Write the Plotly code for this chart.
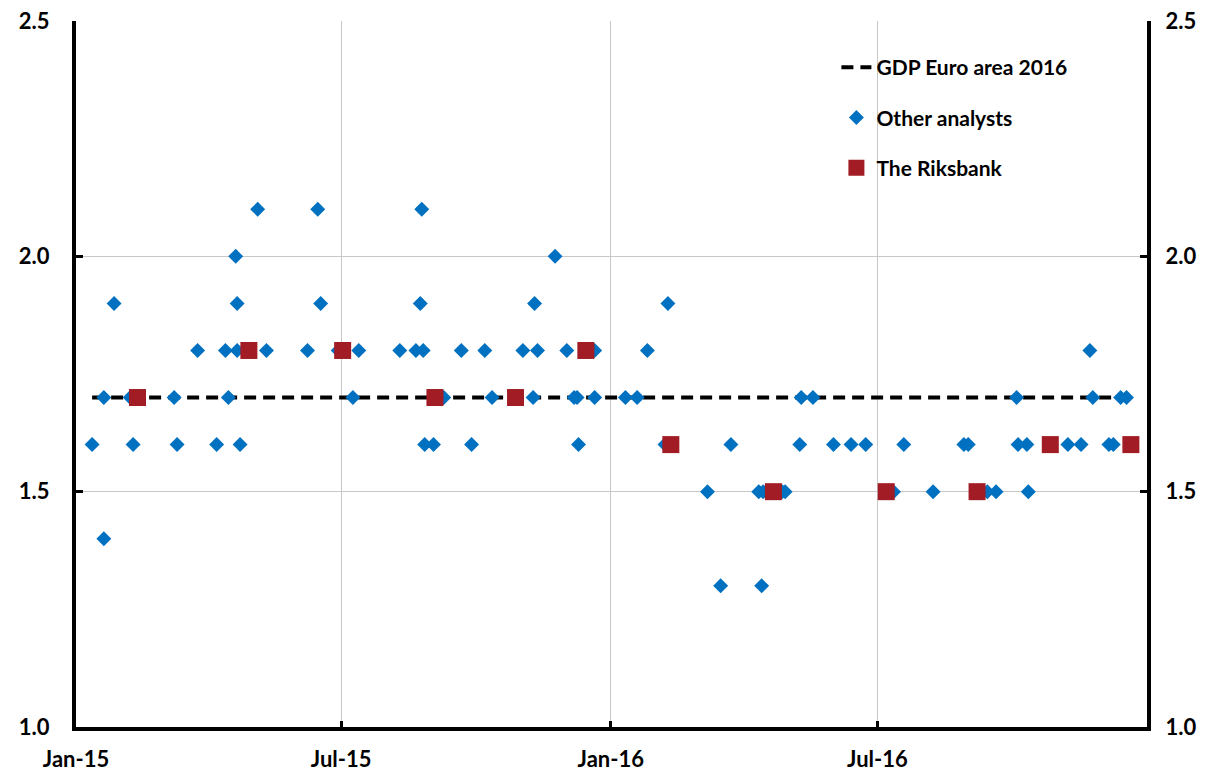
import plotly.graph_objects as go

# GDP forecasts for the euro area, 2016 (annual percentage change)
analyst_dates = [
    "2015-01-12", "2015-01-20", "2015-01-20", "2015-01-27", "2015-02-07", "2015-02-09",
    "2015-03-09", "2015-03-11", "2015-03-25", "2015-04-07", "2015-04-13", "2015-04-15",
    "2015-04-20", "2015-04-21", "2015-04-21", "2015-04-23", "2015-05-05", "2015-05-11",
    "2015-06-08", "2015-06-15", "2015-06-17", "2015-06-29", "2015-07-09", "2015-07-13",
    "2015-08-10", "2015-08-21", "2015-08-24", "2015-08-25", "2015-08-26", "2015-08-27",
    "2015-09-02", "2015-09-09", "2015-09-21", "2015-09-28", "2015-10-07", "2015-10-12",
    "2015-11-02", "2015-11-09", "2015-11-10", "2015-11-12", "2015-11-24", "2015-12-02",
    "2015-12-07", "2015-12-09", "2015-12-10", "2015-12-21", "2015-12-21",
    "2016-01-11", "2016-01-19", "2016-01-26", "2016-02-07", "2016-02-09",
    "2016-03-07", "2016-03-16", "2016-03-23", "2016-04-11", "2016-04-13", "2016-04-14",
    "2016-04-27", "2016-04-29", "2016-05-09", "2016-05-10", "2016-05-18", "2016-06-01",
    "2016-06-13", "2016-06-23", "2016-07-12", "2016-07-19", "2016-08-08", "2016-08-29",
    "2016-09-01", "2016-09-14", "2016-09-20", "2016-10-04", "2016-10-05", "2016-10-11",
    "2016-10-12", "2016-11-08", "2016-11-17", "2016-11-23", "2016-11-25", "2016-12-06",
    "2016-12-09", "2016-12-14", "2016-12-18",
]
analyst_values = [
    1.6, 1.7, 1.4, 1.9, 1.7, 1.6,
    1.7, 1.6, 1.8, 1.6, 1.8, 1.7,
    2.0, 1.9, 1.8, 1.6, 2.1, 1.8,
    1.8, 2.1, 1.9, 1.8, 1.7, 1.8,
    1.8, 1.8, 1.9, 2.1, 1.8, 1.6,
    1.6, 1.7, 1.8, 1.6, 1.8, 1.7,
    1.8, 1.7, 1.9, 1.8, 2.0, 1.8,
    1.7, 1.7, 1.6, 1.8, 1.7,
    1.7, 1.7, 1.8, 1.6, 1.9,
    1.5, 1.3, 1.6, 1.5, 1.3, 1.5,
    1.5, 1.5, 1.6, 1.7, 1.7, 1.6,
    1.6, 1.6, 1.5, 1.6, 1.5, 1.6,
    1.6, 1.5, 1.5, 1.7, 1.6, 1.6,
    1.5, 1.6, 1.6, 1.8, 1.7, 1.6,
    1.6, 1.7, 1.7,
]

riksbank_dates = [
    "2015-02-12", "2015-04-29", "2015-07-02", "2015-09-03", "2015-10-28", "2015-12-15",
    "2016-02-11", "2016-04-21", "2016-07-07", "2016-09-07", "2016-10-27", "2016-12-21",
]
riksbank_values = [1.7, 1.8, 1.8, 1.7, 1.7, 1.8, 1.6, 1.5, 1.5, 1.5, 1.6, 1.6]

# Outcome line
gdp_dates = ["2015-01-12", "2016-12-21"]
gdp_values = [1.7, 1.7]

x_tick_vals = ["2015-01-01", "2015-07-01", "2016-01-01", "2016-07-01"]
x_tick_text = ["Jan-15", "Jul-15", "Jan-16", "Jul-16"]
y_range = [1.0, 2.5]
x_range = ["2015-01-01", "2017-01-01"]

FONT = "Lato"
BLUE = "#0070C0"
RED = "#A11C24"

fig = go.Figure()
fig.add_trace(go.Scatter(
    x=gdp_dates, y=gdp_values, mode="lines", name="GDP Euro area 2016",
    line=dict(color="black", width=4, dash="12px,7px"),
    legendgroup="a",
))
fig.add_trace(go.Scatter(
    x=analyst_dates, y=analyst_values, mode="markers", name="Other analysts",
    marker=dict(symbol="diamond", size=11.5, color=BLUE, line=dict(width=0)),
    legendgroup="b",
))
fig.add_trace(go.Scatter(
    x=riksbank_dates, y=riksbank_values, mode="markers", name="The Riksbank",
    marker=dict(symbol="square", size=17, color=RED, line=dict(width=0)),
    legendgroup="c",
))
# right-hand scale mirrors the left one
fig.add_trace(go.Scatter(
    x=riksbank_dates, y=riksbank_values, mode="markers", yaxis="y2",
    marker=dict(opacity=0), showlegend=False, hoverinfo="skip",
))

axis_font = dict(family=FONT, size=22, color="black", weight="bold")

fig.update_layout(
    width=1212, height=775,
    margin=dict(l=76, r=65, t=21, b=48),
    paper_bgcolor="white", plot_bgcolor="white",
    font=dict(family=FONT, color="black"),
    showlegend=True,
    legend=dict(
        x=0.71, y=0.963, xanchor="left", yanchor="top",
        font=dict(family=FONT, size=21, color="black", weight="bold"),
        bgcolor="rgba(0,0,0,0)", traceorder="grouped", tracegroupgap=20,
        itemsizing="trace",
    ),
    xaxis=dict(
        type="date", range=x_range,
        tickvals=x_tick_vals, ticktext=x_tick_text,
        showgrid=True, gridcolor="#C8C8C8", gridwidth=1,
        showline=True, linecolor="black", linewidth=4,
        ticks="inside", ticklen=6, tickwidth=3, tickcolor="black",
        tickfont=axis_font, ticklabelstandoff=10,
        zeroline=False, fixedrange=True, automargin=False,
    ),
    yaxis=dict(
        range=y_range, dtick=0.5, tickformat=".1f",
        showgrid=True, gridcolor="#C8C8C8", gridwidth=1,
        showline=True, linecolor="black", linewidth=4,
        ticks="inside", ticklen=7, tickwidth=3, tickcolor="black",
        tickfont=axis_font, ticklabelstandoff=18,
        zeroline=False, fixedrange=True, automargin=False,
    ),
    yaxis2=dict(
        range=y_range, dtick=0.5, tickformat=".1f",
        overlaying="y", side="right",
        showgrid=False,
        showline=True, linecolor="black", linewidth=4,
        ticks="inside", ticklen=7, tickwidth=3, tickcolor="black",
        tickfont=axis_font, ticklabelstandoff=10,
        zeroline=False, fixedrange=True, automargin=False,
    ),
)

fig.write_html("out.html")
